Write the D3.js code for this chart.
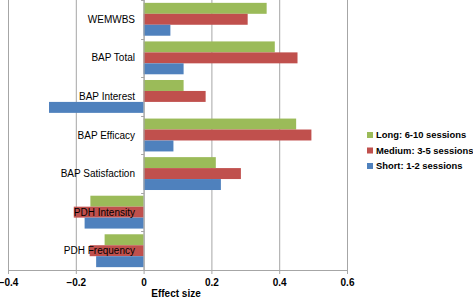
<!DOCTYPE html>
<html>
<head>
<meta charset="utf-8">
<script src="https://cdn.jsdelivr.net/npm/d3@7"></script>
<style>
  body { margin: 0; background: #fff; }
  text { font-family: "Liberation Sans", Arial, sans-serif; }
</style>
</head>
<body>
<div id="chart"></div>
<script>
// data
var categories = ["WEMWBS", "BAP Total", "BAP Interest", "BAP Efficacy", "BAP Satisfaction", "PDH Intensity", "PDH Frequency"];
var seriesNames = ["Long: 6-10 sessions", "Medium: 3-5 sessions", "Short: 1-2 sessions"];
var seriesColors = ["#9bbb59", "#c0504d", "#4f81bd"];
var longVals = [0.363, 0.387, 0.118, 0.450, 0.213, -0.157, -0.115];
var mediumVals = [0.307, 0.454, 0.183, 0.495, 0.287, -0.206, -0.159];
var shortVals = [0.079, 0.118, -0.279, 0.088, 0.228, -0.174, -0.140];
var xTicks = [-0.4, -0.2, 0, 0.2, 0.4, 0.6];

var series = [longVals, mediumVals, shortVals];

var W = 473, H = 300;
var margin = {top: 0, right: 126, bottom: 30, left: 8};

var svg = d3.select("#chart")
  .append("svg")
  .attr("width", W)
  .attr("height", H);

var x = d3.scaleLinear()
  .domain([-0.4, 0.6])
  .range([margin.left, 347]);

var y = d3.scaleBand()
  .domain(categories)
  .range([margin.top, H - margin.bottom]);

var y1 = d3.scaleBand()
  .domain(d3.range(series.length))
  .range([0, y.bandwidth()])
  .paddingOuter(0.26);

// gridlines
svg.append("g")
  .selectAll("line")
  .data(xTicks)
  .enter()
  .append("line")
    .attr("x1", d => x(d) + 0.5)
    .attr("x2", d => x(d) + 0.5)
    .attr("y1", margin.top)
    .attr("y2", H - margin.bottom)
    .attr("stroke", "#a6a6a6")
    .attr("stroke-width", 1);

// bars
series.forEach(function(vals, si) {
  svg.append("g")
    .selectAll("rect")
    .data(vals)
    .enter()
    .append("rect")
      .attr("x", d => x(Math.min(0, d)))
      .attr("y", (d, i) => y(categories[i]) + y1(si))
      .attr("width", d => Math.abs(x(d) - x(0)))
      .attr("height", y1.bandwidth())
      .attr("fill", seriesColors[si]);
});

// x axis
var xAxis = svg.append("g")
  .attr("transform", "translate(0," + (H - margin.bottom) + ")")
  .call(d3.axisBottom(x).tickValues(xTicks).tickSize(4).tickPadding(5)
    .tickFormat(d => d === 0 ? "0" : d3.format(".1f")(d)));
xAxis.select(".domain").attr("stroke", "#a6a6a6").attr("d", "M" + x(-0.4) + ",0.5H" + x(0.6));
xAxis.selectAll(".tick line").attr("stroke", "#a6a6a6");
xAxis.selectAll("text")
  .attr("fill", "#000")
  .style("font-size", "10px")
  .style("font-weight", "bold")
  .style("font-family", "'Liberation Sans', Arial, sans-serif");

// zero axis with category ticks
var yAxis = svg.append("g")
  .attr("transform", "translate(" + (x(0) + 0.5) + ",0)");
yAxis.append("line")
  .attr("y1", margin.top).attr("y2", H - margin.bottom)
  .attr("stroke", "#a6a6a6");
yAxis.selectAll(".cat-tick")
  .data(categories.concat(["end"]))
  .enter()
  .append("line")
    .attr("x1", -3).attr("x2", 0)
    .attr("y1", (d, i) => Math.round(margin.top + i * y.step()) + 0.5)
    .attr("y2", (d, i) => Math.round(margin.top + i * y.step()) + 0.5)
    .attr("stroke", "#a6a6a6");

// category labels
svg.append("g")
  .selectAll("text")
  .data(categories)
  .enter()
  .append("text")
    .attr("x", 135)
    .attr("y", d => y(d) + y.bandwidth() / 2)
    .attr("dy", "0.35em")
    .attr("text-anchor", "end")
    .style("font-size", "10px")
    .attr("fill", "#000")
    .text(d => d);

// axis title
svg.append("text")
  .attr("x", 176)
  .attr("y", 297)
  .attr("text-anchor", "middle")
  .style("font-size", "10px")
  .style("font-weight", "bold")
  .text("Effect size");

// legend
var legend = svg.append("g")
  .attr("transform", "translate(367,135)");
seriesNames.forEach(function(name, i) {
  var g = legend.append("g").attr("transform", "translate(0," + (i * 15.5) + ")");
  g.append("rect")
    .attr("x", 0).attr("y", -3)
    .attr("width", 6).attr("height", 6)
    .attr("fill", seriesColors[i]);
  g.append("text")
    .attr("x", 9).attr("y", 0)
    .attr("dy", "0.35em")
    .style("font-size", "9.4px")
    .style("font-weight", "bold")
    .text(name);
});
</script>
</body>
</html>
